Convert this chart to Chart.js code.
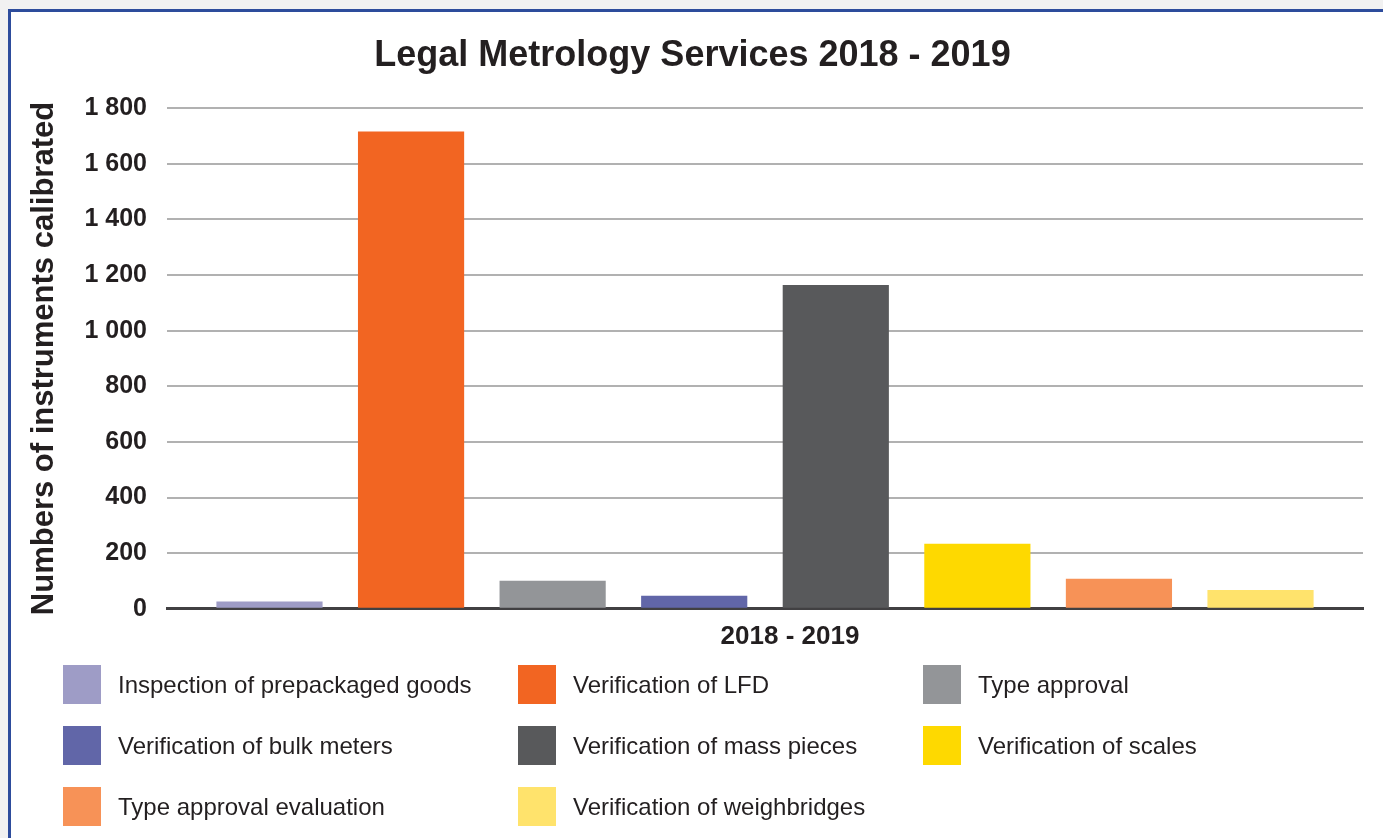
<!DOCTYPE html>
<html>
<head>
<meta charset="utf-8">
<script src="https://cdn.jsdelivr.net/npm/chart.js@4.4.1/dist/chart.umd.min.js"></script>
<style>
  html, body { margin: 0; padding: 0; }
  body { width: 1383px; height: 838px; background: #f1f1f1; position: relative; overflow: hidden; font-family: "Liberation Sans", Arial, sans-serif; }
  #frame { position: absolute; left: 8px; top: 9px; width: 1400px; height: 860px; background: #ffffff; border-top: 3px solid #2d4c9c; border-left: 3px solid #2d4c9c; }
  #wrap { position: absolute; left: 0; top: 0; width: 1383px; height: 673px; }
  #legend { position: absolute; left: 0; top: 0; width: 1383px; height: 838px; pointer-events: none; }
  .item { position: absolute; height: 39px; display: flex; align-items: center; }
  .box { width: 38px; height: 39px; margin-right: 17px; flex: none; }
  .lbl { font-size: 24px; color: #231f20; white-space: nowrap; }
</style>
</head>
<body>
<div id="frame"></div>
<div id="wrap"><canvas id="c"></canvas></div>
<div id="legend"></div>
<script>
const categories = ["2018 - 2019"];
const seriesNames = [
  "Inspection of prepackaged goods",
  "Verification of LFD",
  "Type approval",
  "Verification of bulk meters",
  "Verification of mass pieces",
  "Verification of scales",
  "Type approval evaluation",
  "Verification of weighbridges"
];
const seriesValues = [26, 1716, 101, 47, 1164, 234, 108, 68];
const seriesColors = ["#9e9cc6", "#f26522", "#939598", "#6166a8", "#58595b", "#fed900", "#f79257", "#ffe36c"];
const yTicks = [0, 200, 400, 600, 800, 1000, 1200, 1400, 1600, 1800];

const textColor = "#231f20";
const fam = "'Liberation Sans', Arial, sans-serif";

function fmt(v) {
  return String(v).replace(/\B(?=(\d{3})+(?!\d))/g, " ");
}

const datasets = seriesNames.map((name, i) => ({
  label: name,
  data: [seriesValues[i]],
  backgroundColor: seriesColors[i],
  borderWidth: 0,
  barPercentage: 0.75,
  categoryPercentage: 0.947
}));

const chart = new Chart(document.getElementById("c"), {
  type: "bar",
  data: { labels: categories, datasets: datasets },
  options: {
    responsive: true,
    maintainAspectRatio: false,
    animation: false,
    layout: { padding: { top: 34, left: 22, right: 20, bottom: 9 } },
    plugins: {
      legend: { display: false },
      tooltip: { enabled: false },
      title: {
        display: true,
        text: "Legal Metrology Services 2018 - 2019",
        color: textColor,
        font: { family: fam, size: 36, weight: "bold" },
        padding: { top: 0, bottom: 31 }
      }
    },
    scales: {
      x: {
        grid: { display: false, drawTicks: false },
        border: { display: true, color: "#414042", width: 3 },
        ticks: {
          color: textColor,
          font: { family: fam, size: 26, weight: "bold" },
          padding: 12,
          labelOffset: 25
        }
      },
      y: {
        min: yTicks[0],
        max: yTicks[yTicks.length - 1],
        afterBuildTicks: (scale) => { scale.ticks = yTicks.map(v => ({ value: v })); },
        afterFit: (scale) => { scale.width = 145; },
        grid: { color: "#b1b1b1", lineWidth: 2, drawTicks: false },
        border: { display: false },
        ticks: {
          color: textColor,
          font: { family: fam, size: 25, weight: "bold" },
          padding: 20,
          callback: (v) => fmt(v)
        },
        title: {
          display: true,
          text: "Numbers of instruments calibrated",
          color: textColor,
          font: { family: fam, size: 31, weight: "bold" },
          padding: { top: 4, bottom: 20 }
        }
      }
    }
  }
});

// HTML legend built from the chart's datasets, laid out in 3 columns
const colX = [63, 518, 923];
const rowY = [665, 726, 787];
const legend = document.getElementById("legend");
chart.data.datasets.forEach((ds, i) => {
  const item = document.createElement("div");
  item.className = "item";
  item.style.left = colX[i % 3] + "px";
  item.style.top = rowY[Math.floor(i / 3)] + "px";
  const box = document.createElement("div");
  box.className = "box";
  box.style.background = ds.backgroundColor;
  const lbl = document.createElement("span");
  lbl.className = "lbl";
  lbl.textContent = ds.label;
  item.appendChild(box);
  item.appendChild(lbl);
  legend.appendChild(item);
});
</script>
</body>
</html>
